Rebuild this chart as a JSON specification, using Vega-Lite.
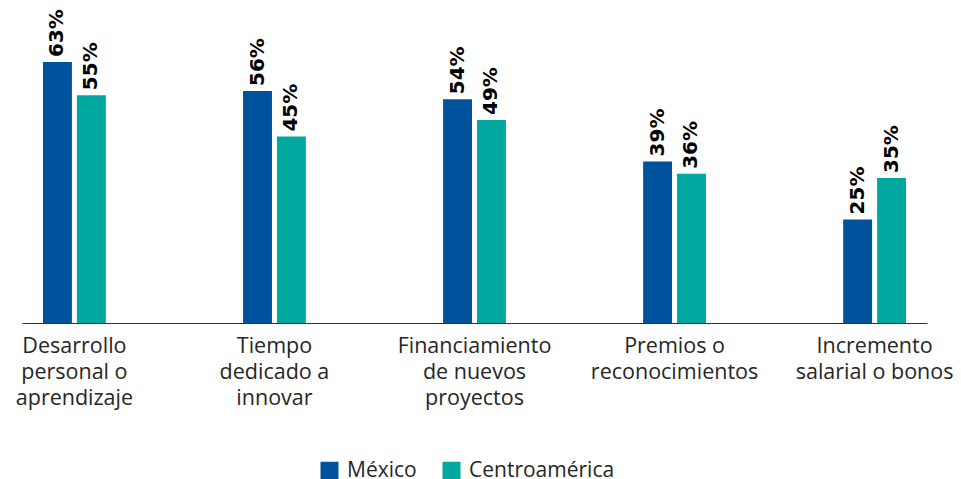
{
  "$schema": "https://vega.github.io/schema/vega-lite/v6.json",
  "autosize": {"type": "none"},
  "padding": {"left": 22, "top": 33, "right": 34, "bottom": 156},
  "width": 905,
  "height": 290,
  "background": "white",
  "config": {"view": {"stroke": null}},
  "data": {"values": [
    {"categoria": "Desarrollo\npersonal o\naprendizaje", "region": "México", "valor": 0.63},
    {"categoria": "Desarrollo\npersonal o\naprendizaje", "region": "Centroamérica", "valor": 0.55},
    {"categoria": "Tiempo\ndedicado a\ninnovar", "region": "México", "valor": 0.56},
    {"categoria": "Tiempo\ndedicado a\ninnovar", "region": "Centroamérica", "valor": 0.45},
    {"categoria": "Financiamiento\nde nuevos\nproyectos", "region": "México", "valor": 0.54},
    {"categoria": "Financiamiento\nde nuevos\nproyectos", "region": "Centroamérica", "valor": 0.49},
    {"categoria": "Premios o\nreconocimientos", "region": "México", "valor": 0.39},
    {"categoria": "Premios o\nreconocimientos", "region": "Centroamérica", "valor": 0.36},
    {"categoria": "Incremento\nsalarial o bonos", "region": "México", "valor": 0.25},
    {"categoria": "Incremento\nsalarial o bonos", "region": "Centroamérica", "valor": 0.35}
  ]},
  "encoding": {
    "x": {
      "field": "categoria", "type": "nominal", "sort": null,
      "scale": {"paddingInner": 0.686, "paddingOuter": 0.105},
      "axis": {
        "title": null, "labelAngle": 0, "ticks": false,
        "labelExpr": "split(datum.label, '\\n')",
        "labelFont": "Open Sans", "labelFontSize": 21.5, "labelFontWeight": "normal", "labelColor": "#262626",
        "labelLineHeight": 26, "labelPadding": 12, "labelBaseline": "top",
        "domainColor": "#333333", "domainWidth": 1.2, "labelLimit": 300
      }
    },
    "xOffset": {
      "field": "region", "type": "nominal", "sort": ["México", "Centroamérica"],
      "scale": {"paddingInner": 0.147, "paddingOuter": 0}
    },
    "y": {
      "field": "valor", "type": "quantitative",
      "scale": {"domain": [0, 0.7]},
      "axis": null
    }
  },
  "layer": [
    {
      "mark": {"type": "bar"},
      "encoding": {
        "color": {
          "field": "region", "type": "nominal",
          "scale": {"domain": ["México", "Centroamérica"], "range": ["#00529C", "#00A8A0"]},
          "legend": {
            "title": null, "orient": "none", "direction": "horizontal",
            "legendX": 297, "legendY": 427,
            "symbolType": "square", "symbolSize": 324, "symbolStrokeWidth": 0,
            "labelFont": "Open Sans", "labelFontSize": 21, "labelFontWeight": "normal", "labelColor": "#262626",
            "labelOffset": 7, "columnPadding": 24, "padding": 0
          }
        }
      }
    },
    {
      "mark": {"type": "text", "angle": 270, "align": "left", "baseline": "middle", "dx": 5,
               "font": "DejaVu Sans", "fontWeight": "bold", "fontSize": 20, "color": "#000000"},
      "encoding": {
        "text": {"field": "valor", "type": "quantitative", "format": ".0%"}
      }
    }
  ]
}
